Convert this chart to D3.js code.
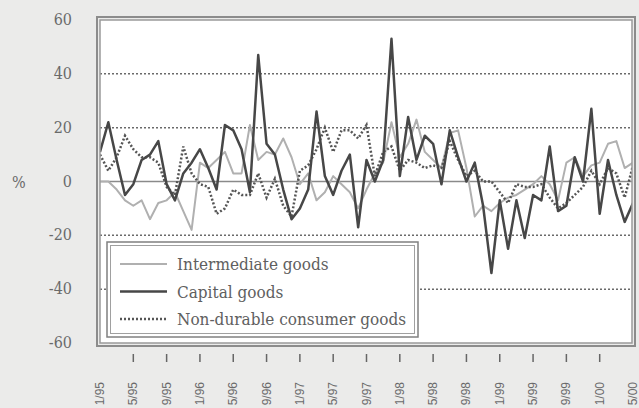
<!DOCTYPE html>
<meta charset="utf-8">
<style>
  html, body { margin: 0; padding: 0; background: #ebebea; }
  svg { display: block; }
  .ylab { font-family: "DejaVu Serif Condensed", "DejaVu Serif", serif; font-size: 16px; fill: #6a6a6a; }
  .xlab { font-family: "Liberation Sans Narrow", "Liberation Sans", sans-serif; font-size: 12px; fill: #6a6a6a; }
  .leg { font-family: "DejaVu Serif Condensed", "DejaVu Serif", serif; font-size: 17px; fill: #606060; }
</style>
<body>
<script src="https://cdn.jsdelivr.net/npm/d3@7/dist/d3.min.js"></script>
<script>
// monthly, 1/95 .. 5/00
var xLabels = ["1/95","5/95","9/95","1/96","5/96","9/96","1/97","5/97","9/97",
               "1/98","5/98","9/98","1/99","5/99","9/99","1/00","5/00"];
var yTicks = [-60, -40, -20, 0, 20, 40, 60];

var intermediate = [0,0,-3,-7,-9,-7,-14,-8,-7,-4,-11,-18,7,5,8,11,3,3,21,8,
  11,10,16,9,-1,3,-7,-4,2,-1,-4,-10,-3,3,7,22,9,14,23,11,
  8,5,18,19,5,-13,-9,-11,-8,-6,-5,-3,-1,2,-1,-7,7,9,2,6,
  7,14,15,5,7];
var capital = [11,22,8,-5,-1,8,10,15,-1,-7,3,7,12,5,-3,21,19,12,-4,47,
  14,10,-3,-14,-10,-3,26,2,-5,4,10,-17,8,0,8,53,2,24,8,17,
  14,-1,19,9,0,7,-9,-34,-7,-25,-7,-21,-5,-7,13,-11,-9,9,0,27,
  -12,8,-5,-15,-8];
var nondurable = [10,4,9,17,12,9,9,7,-2,-5,13,3,-1,-2,-12,-10,-3,-5,-5,3,
  -6,1,-9,-13,4,6,12,20,11,19,19,16,21,2,11,13,4,8,7,5,
  6,5,15,8,2,4,0,0,-4,-8,-1,-2,-2,-1,-6,-10,-8,-5,-2,4,
  -1,5,3,-6,6];

var W = 639, H = 408;
var pL = 100, pR = 633, pT = 20, pB = 343, frameR = 632;

var svg = d3.select("body").append("svg")
  .attr("width", W)
  .attr("height", H);

var x = d3.scaleLinear().domain([0, 64]).range([pL, pR]);
var y = d3.scaleLinear().domain([-60, 60]).range([pB, pT]);

// plot area
svg.append("rect")
  .attr("x", pL).attr("y", pT)
  .attr("width", frameR - pL).attr("height", pB - pT)
  .attr("fill", "#fff");

svg.append("clipPath").attr("id", "clip")
  .append("rect")
  .attr("x", pL).attr("y", pT)
  .attr("width", frameR - pL).attr("height", pB - pT);

// grid
svg.selectAll(".grid")
  .data(yTicks.filter(function (d) { return d !== 0 && Math.abs(d) !== 60; }))
  .enter().append("line")
  .attr("x1", pL).attr("x2", frameR)
  .attr("y1", function (d) { return y(d); })
  .attr("y2", function (d) { return y(d); })
  .attr("stroke", "#6a6a6a")
  .attr("stroke-width", 1.5)
  .attr("stroke-dasharray", "2,2");

svg.append("line")
  .attr("x1", pL).attr("x2", frameR)
  .attr("y1", y(0)).attr("y2", y(0))
  .attr("stroke", "#8a8a8a")
  .attr("stroke-width", 1.5);

// series
var line = function (arr) {
  return d3.line()
    .x(function (d, i) { return x(i); })
    .y(function (d) { return y(d); })(arr);
};

var g = svg.append("g").attr("clip-path", "url(#clip)");

g.append("path").attr("d", line(intermediate))
  .attr("fill", "none").attr("stroke", "#b0b0b0").attr("stroke-width", 2)
  .attr("stroke-linejoin", "round");

g.append("path").attr("d", line(nondurable))
  .attr("fill", "none").attr("stroke", "#555").attr("stroke-width", 2.5)
  .attr("stroke-dasharray", "2,2");

g.append("path").attr("d", line(capital))
  .attr("fill", "none").attr("stroke", "#474747").attr("stroke-width", 2.5)
  .attr("stroke-linejoin", "round");

// frame (double line)
svg.append("rect")
  .attr("x", pL - 3).attr("y", pT - 3)
  .attr("width", frameR - pL + 6).attr("height", pB - pT + 6)
  .attr("fill", "none")
  .attr("stroke", "#8c8c8c")
  .attr("stroke-width", 2);
svg.append("rect")
  .attr("x", pL).attr("y", pT)
  .attr("width", frameR - pL).attr("height", pB - pT)
  .attr("fill", "none")
  .attr("stroke", "#9a9a9a")
  .attr("stroke-width", 1.5);

// y labels
svg.selectAll(".ylab")
  .data(yTicks)
  .enter().append("text")
  .attr("class", "ylab")
  .attr("x", 72)
  .attr("y", function (d) { return y(d) + 5; })
  .attr("text-anchor", "end")
  .text(function (d) { return d; });

svg.append("text")
  .attr("class", "ylab")
  .attr("x", 12).attr("y", y(0) + 6)
  .text("%");

// x ticks and labels
var xs = d3.scaleLinear().domain([0, xLabels.length - 1]).range([pL, pR]);

svg.selectAll(".xtick")
  .data(xLabels.slice(1, -1))
  .enter().append("line")
  .attr("x1", function (d, i) { return xs(i + 1); })
  .attr("x2", function (d, i) { return xs(i + 1); })
  .attr("y1", 354).attr("y2", 362)
  .attr("stroke", "#666")
  .attr("stroke-width", 1.5);

svg.selectAll(".xlab")
  .data(xLabels)
  .enter().append("text")
  .attr("class", "xlab")
  .attr("text-anchor", "end")
  .attr("transform", function (d, i) {
    return "translate(" + (xs(i) + 4) + ",382) rotate(-90)";
  })
  .text(function (d) { return d; });

// legend (double line)
var legend = svg.append("g");
legend.append("rect")
  .attr("x", 107).attr("y", 242)
  .attr("width", 311).attr("height", 95)
  .attr("fill", "#fff")
  .attr("stroke", "#808080")
  .attr("stroke-width", 1.5);
legend.append("rect")
  .attr("x", 110.5).attr("y", 245.5)
  .attr("width", 304).attr("height", 88)
  .attr("fill", "none")
  .attr("stroke", "#a0a0a0")
  .attr("stroke-width", 1);

var legItems = [
  { name: "Intermediate goods", color: "#b0b0b0", w: 2, dash: null },
  { name: "Capital goods", color: "#474747", w: 2.5, dash: null },
  { name: "Non-durable consumer goods", color: "#555", w: 2.5, dash: "2,2" }
];

legItems.forEach(function (d, i) {
  var ly = 264 + i * 27.5;
  legend.append("line")
    .attr("x1", 120).attr("x2", 167)
    .attr("y1", ly).attr("y2", ly)
    .attr("stroke", d.color)
    .attr("stroke-width", d.w)
    .attr("stroke-dasharray", d.dash);
  legend.append("text")
    .attr("class", "leg")
    .attr("x", 177).attr("y", ly + 6)
    .text(d.name);
});
</script>
</body>
